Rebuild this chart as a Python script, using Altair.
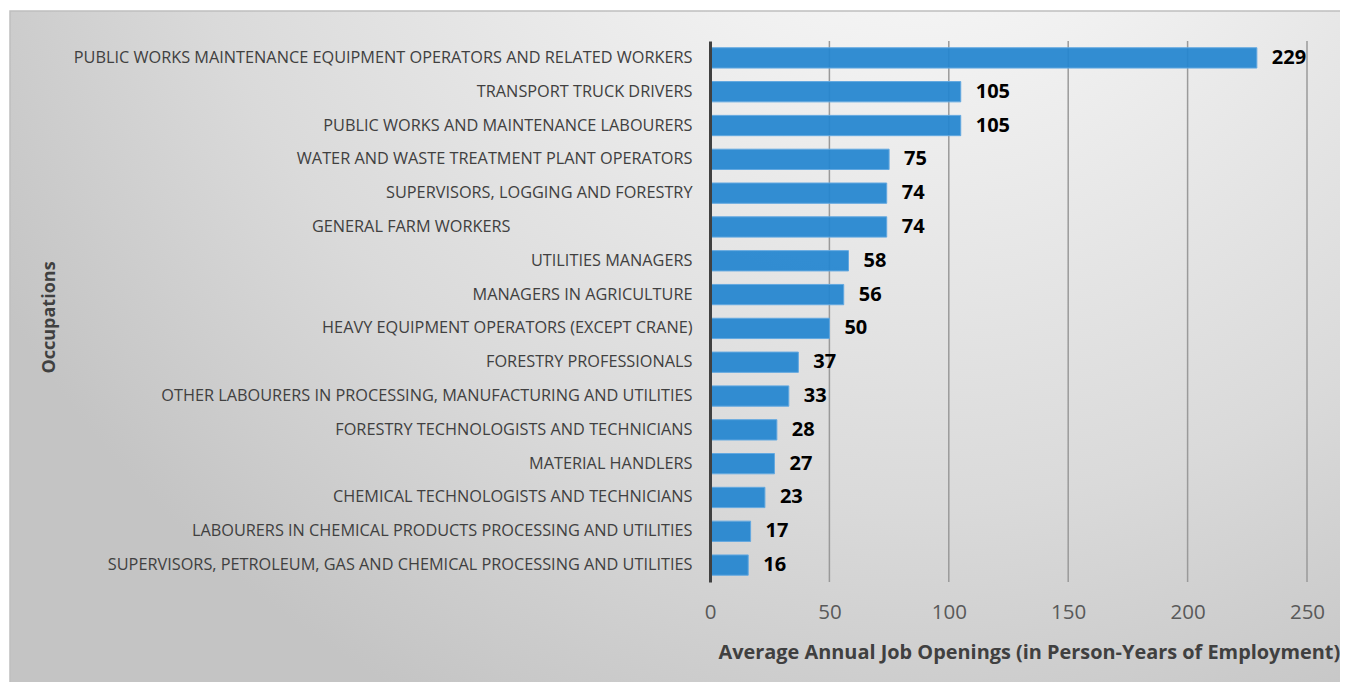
import altair as alt
import pandas as pd

occupations = [
    "PUBLIC WORKS MAINTENANCE EQUIPMENT OPERATORS AND RELATED WORKERS",
    "TRANSPORT TRUCK DRIVERS",
    "PUBLIC WORKS AND MAINTENANCE LABOURERS",
    "WATER AND WASTE TREATMENT PLANT OPERATORS",
    "SUPERVISORS, LOGGING AND FORESTRY",
    "GENERAL FARM WORKERS",
    "UTILITIES MANAGERS",
    "MANAGERS IN AGRICULTURE",
    "HEAVY EQUIPMENT OPERATORS (EXCEPT CRANE)",
    "FORESTRY PROFESSIONALS",
    "OTHER LABOURERS IN PROCESSING, MANUFACTURING AND UTILITIES",
    "FORESTRY TECHNOLOGISTS AND TECHNICIANS",
    "MATERIAL HANDLERS",
    "CHEMICAL TECHNOLOGISTS AND TECHNICIANS",
    "LABOURERS IN CHEMICAL PRODUCTS PROCESSING AND UTILITIES",
    "SUPERVISORS, PETROLEUM, GAS AND CHEMICAL PROCESSING AND UTILITIES",
]
openings = [229, 105, 105, 75, 74, 74, 58, 56, 50, 37, 33, 28, 27, 23, 17, 16]
tick_values = [0, 50, 100, 150, 200, 250]
grid_values = [50, 100, 150, 200, 250]

df = pd.DataFrame({"occupation": occupations, "openings": openings})

W, H = 597, 541
FONT = "Open Sans"

xscale = alt.Scale(domain=[0, 250], nice=False, zero=True)
yscale = alt.Scale(paddingInner=0.4, paddingOuter=0.2)

gradient = {
    "gradient": "radial",
    "x1": 0.68, "y1": 0.05, "r1": 0,
    "x2": 0.68, "y2": 0.05, "r2": 0.8,
    "stops": [
        {"offset": 0.0, "color": "#ffffff"},
        {"offset": 0.3, "color": "#f0f0f0"},
        {"offset": 0.7, "color": "#dadada"},
        {"offset": 1.0, "color": "#c4c4c4"},
    ],
}

x_axis = alt.Axis(
    values=tick_values, grid=False, domain=False, ticks=False, labelFlush=False,
    labelFont=FONT, labelFontSize=20.5, labelColor="#595959", labelPadding=20,
    title="Average Annual Job Openings (in Person-Years of Employment)",
    titleFont=FONT, titleFontSize=19.9, titleFontWeight="bold", titleColor="#404040",
    titleX=8, titleY=70, titleAnchor="start", titleAlign="left", titleBaseline="middle",
    zindex=1,
)

y_axis = alt.Axis(
    title="Occupations", titleFont=FONT, titleFontSize=18, titleFontWeight="bold",
    titleColor="#404040", titleX=-661, titleY=276, titleAlign="center",
    titleBaseline="middle", titleAngle=-90,
    labelFont=FONT, labelFontSize=16.3, labelColor="#404040", labelLimit=700,
    labelPadding={"condition": {"test": "datum.value === 'GENERAL FARM WORKERS'", "value": 200}, "value": 18},
    ticks=False, domainColor="#404040", domainWidth=3, grid=False, zindex=1,
)

x_enc = alt.X("openings:Q", scale=xscale, axis=x_axis)
y_enc = alt.Y("occupation:N", sort=occupations, scale=yscale, axis=y_axis)

bg = alt.Chart(pd.DataFrame({"k": [0]})).mark_rect(
    fill=gradient, stroke="#bfbfbf", strokeWidth=1.5
).encode(
    x=alt.value(-700), x2=alt.value(W + 40),
    y=alt.value(-30), y2=alt.value(H + 120),
)

grid = alt.Chart(pd.DataFrame({"openings": grid_values})).mark_rule(
    color="#9a9a9a", strokeWidth=1.5
).encode(
    x=x_enc,
    y=alt.value(0), y2=alt.value(H),
)

bars = alt.Chart(df).mark_bar(
    fill="#2385D0", stroke="#63A8E0", strokeWidth=1, fillOpacity=0.93
).encode(
    x=x_enc,
    y=y_enc,
)

labels = alt.Chart(df).mark_text(
    align="left", baseline="middle", dx=15, font=FONT, fontSize=20,
    fontWeight="bold", color="#000000"
).encode(
    x=x_enc,
    y=y_enc,
    text="openings:Q",
)

chart = alt.layer(bg, grid, bars, labels).properties(
    width=W, height=H,
    autosize=alt.AutoSizeParams(type="none"),
    padding={"left": 702, "top": 33, "right": 33, "bottom": 100},
).configure_view(stroke=None).configure(background="#ffffff")

chart.save("out.html", embed_options={"renderer": "svg", "actions": False})
